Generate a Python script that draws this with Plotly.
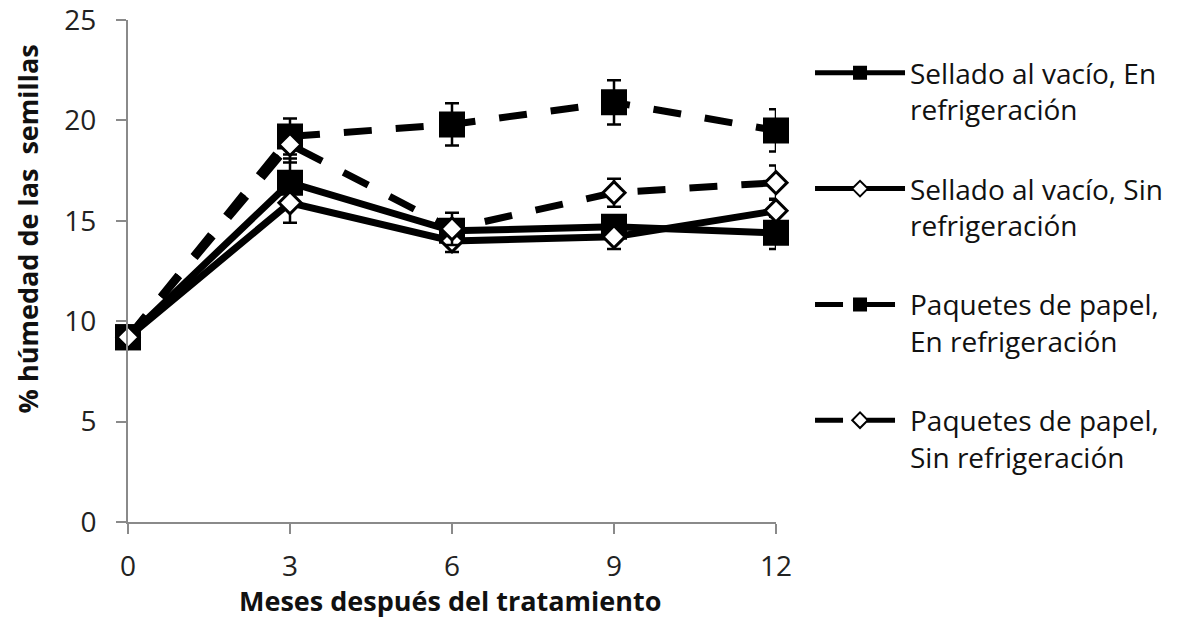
import plotly.graph_objects as go

months = [0, 3, 6, 9, 12]
tick_labels = ["0", "3", "6", "9", "12"]

series_names = [
    "Sellado al vacío, En<br>refrigeración",
    "Sellado al vacío, Sin<br>refrigeración",
    "Paquetes de papel,<br>En refrigeración",
    "Paquetes de papel,<br>Sin refrigeración",
]
sellado_en = [9.2, 16.9, 14.5, 14.7, 14.4]
sellado_en_err = [0.0, 1.2, 0.4, 0.4, 0.8]
sellado_sin = [9.2, 15.9, 14.0, 14.2, 15.5]
sellado_sin_err = [0.0, 1.0, 0.55, 0.6, 0.6]
papel_en = [9.2, 19.2, 19.8, 20.9, 19.5]
papel_en_err = [0.0, 0.9, 1.05, 1.1, 1.05]
papel_sin = [9.2, 18.8, 14.6, 16.4, 16.9]
papel_sin_err = [0.0, 0.9, 0.8, 0.7, 0.85]

FONT = "Open Sans"
DASH = "28px,24px"

def make_trace(name, y, err, dash, symbol, rank):
    filled = symbol == "square"
    return go.Scatter(
        x=months, y=y, name=name, mode="lines+markers",
        line=dict(color="black", width=7, dash=dash),
        marker=dict(symbol=symbol, size=24 if filled else 17,
                    color="black" if filled else "white",
                    line=dict(color="black", width=2 if filled else 3)),
        error_y=dict(type="data", array=err, visible=True, color="black",
                     thickness=2.5, width=7),
        cliponaxis=False,
        legendgroup=name, legendrank=rank,
    )

fig = go.Figure()
fig.add_trace(make_trace(series_names[0], sellado_en, sellado_en_err, "solid", "square", 1))
fig.add_trace(make_trace(series_names[2], papel_en, papel_en_err, DASH, "square", 3))
fig.add_trace(make_trace(series_names[1], sellado_sin, sellado_sin_err, "solid", "diamond", 2))
fig.add_trace(make_trace(series_names[3], papel_sin, papel_sin_err, DASH, "diamond", 4))

axis_common = dict(
    showline=True, linecolor="#8a8a8a", linewidth=2,
    ticks="outside", tickcolor="#8a8a8a", ticklen=10, tickwidth=2,
    showgrid=False, zeroline=False, automargin=False,
    ticklabeloverflow="allow",
    tickfont=dict(family=FONT, size=28, color="#222"),
)

fig.update_layout(
    width=1200, height=622,
    margin=dict(l=128, r=424, t=20, b=100),
    plot_bgcolor="white", paper_bgcolor="white",
    font=dict(family=FONT, size=28, color="#111"),
    xaxis=dict(range=[0, 12], tickvals=months, ticktext=tick_labels, ticklabelstandoff=8, **axis_common),
    yaxis=dict(range=[0, 25], tickvals=[0, 5, 10, 15, 20, 25], ticklabelstandoff=14, **axis_common),
    showlegend=True,
    legend=dict(
        x=1.0525, y=0.944, xanchor="left", yanchor="top",
        traceorder="grouped", tracegroupgap=40,
        itemwidth=90, itemsizing="constant", valign="top",
        font=dict(family=FONT, size=28, color="#111"),
        bgcolor="rgba(0,0,0,0)",
    ),
    annotations=[
        dict(text="<b>Meses después del tratamiento</b>", xref="paper", yref="paper",
             x=0.497, y=-0.157, xanchor="center", yanchor="middle", showarrow=False,
             font=dict(family=FONT, size=27, color="#111")),
        dict(text="<b>% húmedad de las  semillas</b>", xref="paper", yref="paper",
             x=-0.155, y=0.584, xanchor="center", yanchor="middle", showarrow=False,
             textangle=-90, font=dict(family=FONT, size=27, color="#111")),
    ],
)

fig.write_html("out.html")
